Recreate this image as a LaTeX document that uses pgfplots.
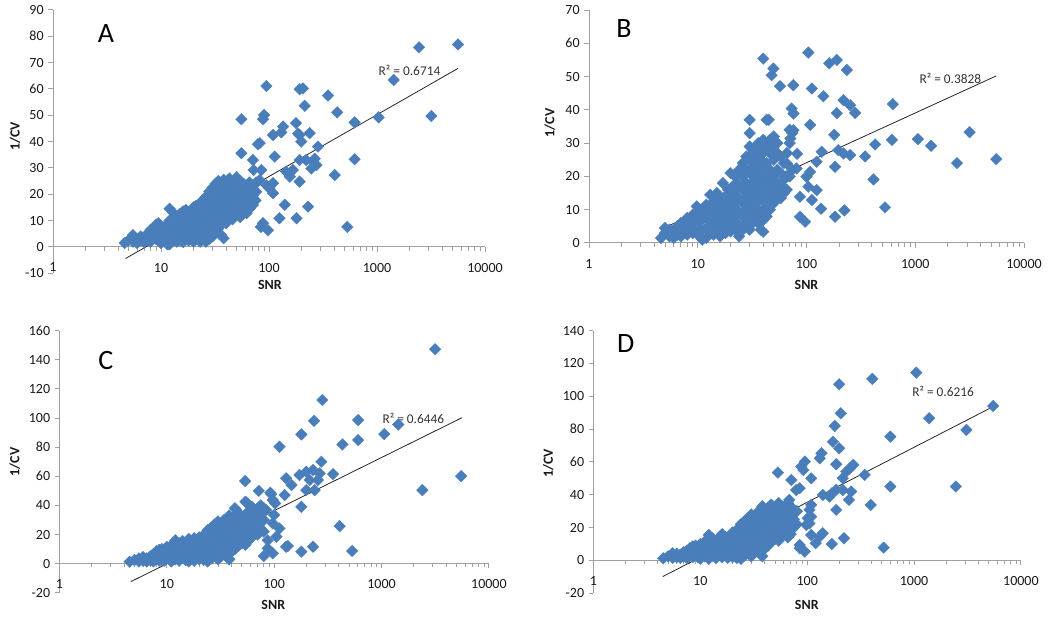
\documentclass[border=0pt]{standalone}
\usepackage{fontspec}
\setmainfont{Carlito}
\usepackage{pgfplots}
\pgfplotsset{compat=1.18}
\definecolor{ptblue}{HTML}{4A7EBB}
\definecolor{axgray}{HTML}{A0A0A0}
\pgfplotsset{
  panel/.style={
    scale only axis,
    anchor=south west,
    xmin=1, xmax=10000,
    axis y line*=left,
    axis x line*=middle,
    hide obscured x ticks=false,
    hide obscured y ticks=false,
    axis line style={draw=axgray, line width=0.75pt},
    xtick={1,10,100,1000,10000},
    xticklabels={1,10,100,1000,10000},
    minor xtick={},
    tick style={draw=axgray, line width=0.75pt},
    tick align=outside,
    major tick length=3.5pt,
    /pgf/number format/assume math mode=true,
    tick label style={font=\fontsize{10.5}{12}\selectfont, text=black!90},
    xticklabel style={yshift=-5pt},
    clip=false,
  },
  pts/.style={only marks, mark=square*, mark size=3.1pt, mark options={rotate=45, fill=ptblue, draw=ptblue, line width=0.2pt}},
  trend/.style={no marks, black!85, line width=0.6pt},
}
\tikzset{
  axtitle/.style={font=\fontsize{10.5}{12}\selectfont\bfseries, text=black!90},
  rtext/.style={font=\fontsize{10}{11}\selectfont, text=black!80},
  plabel/.style={font=\fontsize{21}{24}\selectfont},
}
\begin{document}
\begin{tikzpicture}
\useasboundingbox (0,0) rectangle (787.5pt,465.75pt);
% ---------------- A ----------------
\begin{axis}[xmode=log, panel, at={(39.75pt,260.8pt)}, width=324pt, height=197.5pt,
  ymin=-10, ymax=90, ytick={-10,0,...,90}]
\addplot[pts] coordinates {
(4.6,1.5) (5,2.5) (5.5,4.5) (5.5,2) (6,3) (6,1.5) (6.5,2.5) (6.5,4) (7,3.5) (7,1.8) (7.5,5) (7.5,2.5)
(8,6.5) (8,3.5) (8,2) (8.5,7) (8.5,4.5) (9,8.5) (9,5.5) (9,3) (9.5,9) (9.5,6) (9.5,2.5) (10,7.5) (10,4) (10,1.5)
(11,8) (11,5) (11,2) (11.5,1) (12,14.5) (12,10) (12,6.5) (12,3) (12,1) (13,13) (13,9) (13,6) (13,3.5)
(14,11) (14,7.5) (14,4) (14,2) (15,12.5) (15,9) (15,5.5) (15,2.5) (16,13.5) (16,10) (16,6) (16,1.8)
(17,14) (17,11) (17,7.5) (17,4) (18,12) (18,8.5) (18,5) (18,2.5) (19,13.5) (19,10) (19,6.5) (19,3)
(20,15) (20,11) (20,7) (20,4) (20,2) (21,15.5) (21,12) (21,8.5) (21,5) (22,14) (22,10) (22,6) (22,3)
(23,16) (23,12.5) (23,9) (23,5.5) (23,2) (24,17.5) (24,13.5) (24,10) (24,7) (24,3.5)
(26,19) (26,15) (26,11.5) (26,8) (26,4.5) (26,2) (28,21) (28,17) (28,13) (28,9.5) (28,6) (28,3)
(30,22.5) (30,19) (30,15) (30,11) (30,7.5) (30,4) (32,24) (32,20) (32,16.5) (32,13) (32,9) (32,5.5)
(34,25) (34,21.5) (34,18) (34,14) (34,10.5) (34,7) (36,23) (36,19.5) (36,16) (36,12) (36,8.5) (36,4.5)
(38,25.5) (38,22) (38,18) (38,14) (38,10) (38,3.3) (40,24) (40,20) (40,16) (40,12.5) (40,9)
(43,26) (43,22.5) (43,19) (43,15) (43,11.5) (46,25) (46,21) (46,17.5) (46,14) (46,10.5)
(50,26.5) (50,23) (50,19.5) (50,16) (50,12.5) (54,25) (54,21.5) (54,18) (54,14.5) (54,11.5)
(58,24) (58,20) (58,16.5) (58,13) (62,23) (62,19.5) (62,15.5) (66,24.5) (66,21) (66,17.5) (66,14.5)
(71,23) (71,19.5) (71,16) (76,24.5) (76,21)
(5620,76.9) (2450,75.8) (1427,63.4) (3185,49.7) (1036,49.2) (621,47.3) (621,33.3) (531,7.6)
(406,27.3) (428,51.1) (352,57.5) (284,38.1) (275,31.1) (265,33.5) (255,32.4) (247,29.8) (238,43.2)
(230,15.3) (221,33) (214,53.6) (206,60.2) (192,59.9) (192,42.5) (199,40) (192,33) (192,24.8)
(180,10.9) (178,47) (186,43) (166,29.2) (156,26.7) (144,28.6) (140,16) (135,45.7) (130,43.5)
(125,10.9) (113,34.3) (109,42.5) (109,24.2) (101,22.3) (109,20.4) (95,23.4) (98,6.3) (94.6,61.1)
(88,48.5) (90,50.1) (88,9) (84,7.6) (85,29.2) (82,39.4) (82,25.4) (79,39) (71,33) (72,29.2)
(66,14.6) (75,17.7) (55.5,48.5) (55.5,35.6) (70,22) (62,12.8) (48,16.5) (54,11.4)
};
\addplot[trend] coordinates {(4.7,-4.4) (5620,67.8)};
\node[rtext] at (axis cs:2000,67.2) {R² = 0.6714};
\node[plabel] at (axis cs:3.1,81.1) {A};
\node[axtitle, rotate=90] at (rel axis cs:-0.088,0.519) {1/CV};
\node[axtitle] at (rel axis cs:0.502,-0.044) {SNR};
\end{axis}
% ---------------- B ----------------
\begin{axis}[xmode=log, panel, at={(441.75pt,283.5pt)}, width=326.25pt, height=174.75pt,
  ymin=0, ymax=70, ytick={0,10,...,70}]
\addplot[pts] coordinates {
(4.6,1.5) (5,3) (5,4.5) (5.5,2) (5.5,4) (6,1.5) (6,3.5) (6.5,2.5) (6.5,5) (7,2) (7,4) (7,6)
(7.5,3) (7.5,5.5) (8,2.5) (8,5) (8,7.5) (8.5,4) (8.5,6.5) (9,3) (9,5.5) (9,8.5) (9.5,5) (9.5,7.5) (9.8,11)
(10,2.5) (10,6) (10,9) (11,1) (11,4) (11,7) (11,10) (12,1.5) (12,4.5) (12,8) (12,11.5)
(13,3) (13,6.5) (13,10) (13,14.5) (14,2.5) (14,5.5) (14,9) (14,12.5) (15,4) (15,7.5) (15,11) (15,15)
(16,2) (16,6) (16,9.5) (16,13) (17,4) (17,8) (17,11.5) (17,18) (18,3) (18,6.5) (18,10) (18,14)
(19,5) (19,9) (19,12.5) (19,16) (20,3.5) (20,7) (20,11) (20,15) (20,21) (21,5.5) (21,9) (21,13) (21,17)
(22,4) (22,8) (22,12) (22,16.5) (22,20) (23,6) (23,10) (23,14) (23,18)
(24,2) (24,5) (24,9) (24,13) (24,17) (24,22) (26,4) (26,8) (26,12) (26,16) (26,20) (26,24)
(28,6) (28,10) (28,14) (28,18) (28,22) (28,26)
(30,4) (30,8.5) (30,12.5) (30,16.5) (30,21) (30,25) (30,29) (30,33) (30,37)
(32,6) (32,10) (32,14) (32,18.5) (32,23) (32,27) (34,8) (34,12) (34,16) (34,20) (34,24) (34,28)
(36,6) (36,10) (36,14) (36,18) (36,22) (36,26) (36,30) (38,4) (38,9) (38,13) (38,17) (38,21) (38,25) (38,28.5)
(40,7) (40,10) (40,15) (40,19) (40,23) (40,27) (40,31) (43,8) (43,12) (43,16) (43,20) (43,24) (43,29) (43,37)
(46,10) (46,14) (46,18) (46,22) (46,27) (46,31) (50,12) (50,16) (50,20) (50,25) (50,29) (50,32)
(54,14) (54,18) (54,22) (54,27) (54,30) (58,13.5) (58,17) (58,21) (58,26)
(62,15) (62,19) (62,24) (66,16) (66,20) (66,27) (70,20) (70,30) (70,34) (74,33) (74,22)
(5560,25.2) (3160,33.3) (2420,24) (1400,29.2) (1058,31.2) (622,41.7) (610,31) (527,10.7)
(428,29.6) (413,19.1) (346,26) (280,39.1) (252,41.4) (235,52) (219,42.9) (223,9.8) (219,26.9)
(252,26.4) (196,27.9) (190,55) (162,54) (190,39) (183,22.9) (180,32.5) (183,7.9) (143,44.1)
(138,27.4) (136,10.3) (124,24.4) (124,15.9) (112,46.4) (108,35.5) (112,12.9) (108,21.4) (104,16.9)
(100,19.9) (104,57.2) (97,6.4) (87,7.9) (87,13.9) (81,22.4) (82,26.8) (76,38.9) (73,40.4) (76,33.9)
(71,31.4) (75.6,47.4) (66,23.9) (63.5,19.9) (61,16.9) (55,14.9) (57,47.1) (49.6,52.4) (47.8,50.4)
(40,55.4) (45,37) (40,9.9) (40,6.9) (40,3.4)
};
\addplot[trend] coordinates {(4.8,4.4) (5560,50.2)};
\node[rtext] at (axis cs:2100,49.5) {R² = 0.3828};
\node[plabel] at (axis cs:2.1,64.5) {B};
\node[axtitle, rotate=90] at (rel axis cs:-0.09,0.515) {1/CV};
\node[axtitle] at (rel axis cs:0.5,-0.18) {SNR};
\end{axis}
% ---------------- C ----------------
\begin{axis}[xmode=log, panel, at={(44.6pt,21.2pt)}, width=322.1pt, height=196.5pt,
  ymin=-20, ymax=160, ytick={-20,0,...,160}]
\addplot[pts] coordinates {
(4.5,1.3) (5,2.5) (5.5,3.5) (5.5,1.5) (6,2) (6,4.5) (6.5,1.5) (6.5,3.5) (7,2.5) (7,5)
(7.5,1.5) (7.5,4) (7.5,6.5) (8,3) (8,6) (8,8.5) (8.5,2) (8.5,5) (8.5,9.5) (9,3.5) (9,7) (9,10)
(9.5,2) (9.5,5.5) (9.5,9) (10,4) (10,8) (10,11.5) (11,1.5) (11,5) (11,9) (11,12.5)
(12,3) (12,7) (12,11) (12,16) (13,2) (13,5.5) (13,9.5) (13,14) (14,4) (14,8) (14,12) (14,15.5)
(15,2.5) (15,6.5) (15,10.5) (15,14.5) (16,1.5) (16,5) (16,9) (16,13) (16,17)
(17,3.5) (17,7.5) (17,11.5) (17,15.5) (18,2) (18,6) (18,10) (18,14) (18,17.5)
(19,4.5) (19,8.5) (19,12.5) (19,16) (20,3) (20,7) (20,11) (20,15) (20,18)
(21,5) (21,9) (21,13) (21,17) (22,2.5) (22,6.5) (22,10.5) (22,14.5) (22,19)
(23,4) (23,8.5) (23,12.5) (23,17) (23,21) (24,1.5) (24,6) (24,10) (24,14.5) (24,19) (24,23)
(26,3.5) (26,8) (26,12.5) (26,17) (26,21.5) (26,25) (28,5.5) (28,10) (28,14.5) (28,19) (28,23.5) (28,27)
(30,3) (30,7.5) (30,12) (30,16.5) (30,21) (30,25.5) (30,29) (32,5) (32,9.5) (32,14) (32,18.5) (32,23) (32,27.5)
(34,7) (34,11.5) (34,16) (34,20.5) (34,25) (34,30) (36,9) (36,13.5) (36,18) (36,22.5) (36,27)
(38,3) (38,11) (38,15.5) (38,20) (38,24.5) (38,29) (38,33) (40,8) (40,13) (40,17.5) (40,22) (40,26.5) (40,31)
(43,10) (43,15) (43,19.5) (43,24) (43,28.5) (43,33) (43,38) (46,12) (46,17) (46,21.5) (46,26) (46,30.5) (46,35)
(50,14) (50,19) (50,23.5) (50,28) (50,32.5) (54,13) (54,18) (54,22) (54,27) (54,32) (54,42.5)
(58,16) (58,20.5) (58,25) (58,30) (58,36) (62,18) (62,23) (62,28) (62,34) (62,39)
(66,21) (66,26) (66,31) (66,37) (70,20) (70,25) (70,33) (70,38) (75,24) (75,29) (75,35) (75,40)
(80,38) (80,30) (80,22)
(3150,147.3) (5510,60.1) (2400,50.5) (1430,95.6) (1060,89) (605,98.6) (605,84.9) (532,8.7)
(407,25.8) (432,81.9) (353,61.5) (281,112.4) (275,70) (265,62) (255,57.4) (238,50.5) (235,98.1)
(230,64.3) (230,11.6) (214,57.4) (199,63.1) (199,50.5) (179,88.8) (179,39) (172,60.9) (179,8.2)
(145,54) (129,58.6) (129,11.6) (125,47.1) (112,80.3) (112,24.2) (105,18.5) (100,33.4) (97,43.7)
(97,27.7) (97,7.1) (92,48.7) (87,10.5) (93.7,47.8) (71.8,50) (53.6,56.7) (55,42) (44,37.2)
(38,2.9) (84,36.8) (80,5.2) (102,41.4) (87,16) (134,12.1)
};
\addplot[trend] coordinates {(4.61,-12.4) (5594,100.2)};
\node[rtext] at (axis cs:1977,99.8) {R² = 0.6446};
\node[plabel] at (axis cs:2.7,139.8) {C};
\node[axtitle, rotate=90] at (rel axis cs:-0.104,0.5) {1/CV};
\node[axtitle] at (rel axis cs:0.498,-0.047) {SNR};
\end{axis}
% ---------------- D ----------------
\begin{axis}[xmode=log, panel, at={(445.1pt,20.8pt)}, width=320.6pt, height=197pt,
  ymin=-20, ymax=140, ytick={-20,0,...,140}]
\addplot[pts] coordinates {
(4.5,1.3) (5,2.5) (5.5,4.4) (5.5,1.5) (6,2) (6,4) (6.5,1.5) (6.5,3.5) (7,2.5) (7,5)
(7.5,1.5) (7.5,4) (7.5,6) (8,3) (8,5.5) (8,7.5) (8.5,2) (8.5,4.5) (8.5,8.5) (9,3.5) (9,6.5) (9,9)
(9.5,2) (9.5,5) (9.5,8) (10,1) (10,4) (10,7.5) (10,10) (11,2.5) (11,6) (11,9) (11,11.5)
(12,1) (12,4.5) (12,8) (12,12) (12,15.5) (13,3) (13,6.5) (13,10) (13,13.5) (14,1.5) (14,5) (14,8.5) (14,12)
(15,3.5) (15,7) (15,10.5) (15,14) (16,2) (16,5.5) (16,9) (16,13) (16,16) (17,4) (17,7.5) (17,11) (17,14.5)
(18,1.5) (18,6) (18,9.5) (18,13) (19,3.5) (19,8) (19,11.5) (19,15) (20,2) (20,5.5) (20,10) (20,14) (20,17)
(21,4) (21,8) (21,12) (21,16) (22,1.5) (22,6) (22,10) (22,14) (22,18) (23,3.5) (23,8) (23,12) (23,16) (23,20)
(24,1) (24,5.5) (24,10) (24,14) (24,18) (24,22) (26,3) (26,7.5) (26,12) (26,16) (26,20) (26,24)
(28,5) (28,9.5) (28,14) (28,18) (28,22) (28,26) (30,2.5) (30,7) (30,11.5) (30,16) (30,20) (30,24) (30,28)
(32,4.5) (32,9) (32,13.5) (32,18) (32,22) (32,26) (34,6.5) (34,11) (34,15.5) (34,20) (34,24) (34,29)
(36,8.5) (36,13) (36,17.5) (36,22) (36,26) (36,30) (38,2.5) (38,10) (38,14.5) (38,19) (38,23.5) (38,28) (38,33)
(40,7) (40,12) (40,16.5) (40,21) (40,25.5) (40,30) (43,9) (43,14) (43,18.5) (43,23) (43,27.5) (43,32)
(46,11) (46,16) (46,20.5) (46,25) (46,29.5) (46,34) (50,13) (50,18) (50,22.5) (50,27) (50,31.5)
(54,12) (54,17) (54,22) (54,26.5) (54,31) (54,35) (58,15) (58,20) (58,24.5) (58,29) (58,33)
(62,17) (62,22) (62,27) (62,32) (66,14) (66,19) (66,24) (66,30) (66,35) (70,16) (70,21) (70,27) (70,33)
(75,20) (75,25) (80,30) (80,22)
(5500,94.1) (3090,79.5) (2460,45) (1385,86.6) (1050,114.4) (600,75.4) (600,45) (520,7.8)
(407,110.6) (393,33.8) (345,52.1) (270,58.2) (250,56) (258,42) (246,36.9) (221,13.5) (232,54.1)
(215,50.1) (215,42.9) (199,107.3) (206,89.6) (199,68.3) (181,81.9) (174,72.3) (187,58.6) (187,30.8)
(170,10) (187,43) (170,40.9) (162,38.9) (140,39.9) (136,65.3) (131,62.2) (140,16.6) (131,14.5)
(120,10.5) (109,50) (109,33.8) (105,30.8) (109,26.7) (101,25.7) (105,22.6) (98,21.6) (109,15.5)
(95,60.2) (88,57.1) (85,44) (79,42.9) (71,49) (68,36.9) (53.2,53.5) (85,9.4) (85,7.4) (95,5.4)
(68,16.5) (92,55.1)
};
\addplot[trend] coordinates {(4.46,-9.8) (5500,93.7)};
\node[rtext] at (axis cs:1870,102.8) {R² = 0.6216};
\node[plabel] at (axis cs:2.0,132.3) {D};
\node[axtitle, rotate=90] at (rel axis cs:-0.106,0.495) {1/CV};
\node[axtitle] at (rel axis cs:0.499,-0.045) {SNR};
\end{axis}
\end{tikzpicture}
\end{document}
